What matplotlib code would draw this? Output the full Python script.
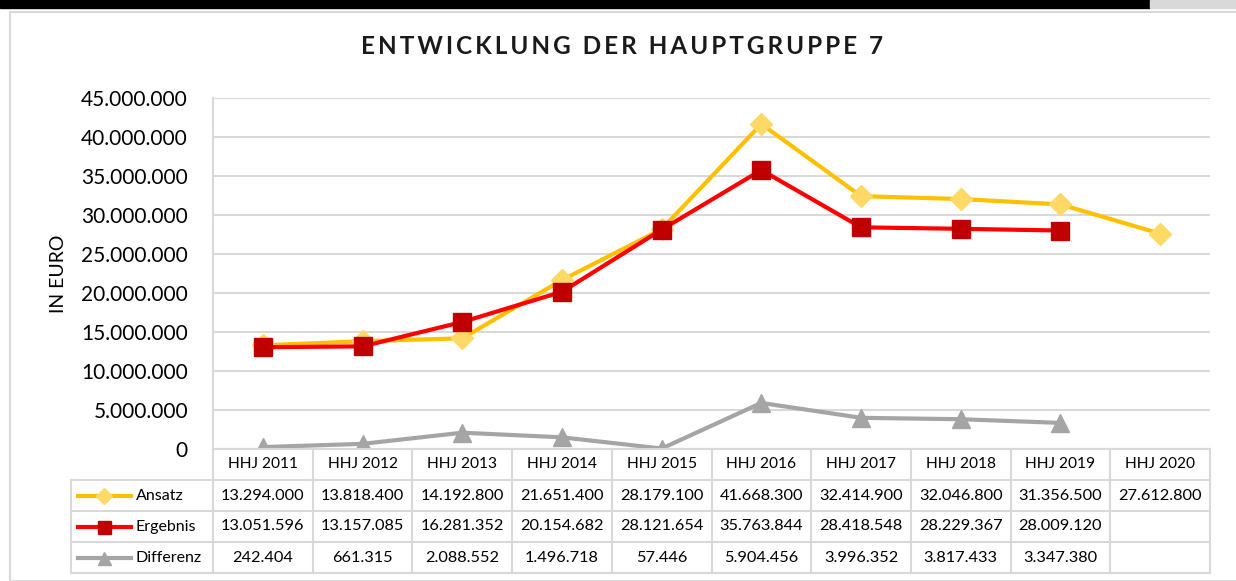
import matplotlib
matplotlib.use("Agg")
import matplotlib.pyplot as plt
from matplotlib.patches import Rectangle
from matplotlib.lines import Line2D
from matplotlib.ticker import FuncFormatter

plt.rcParams['font.family'] = ['Lato', 'DejaVu Sans']

years = ["HHJ 2011", "HHJ 2012", "HHJ 2013", "HHJ 2014", "HHJ 2015",
         "HHJ 2016", "HHJ 2017", "HHJ 2018", "HHJ 2019", "HHJ 2020"]
ansatz = [13294000, 13818400, 14192800, 21651400, 28179100,
          41668300, 32414900, 32046800, 31356500, 27612800]
ergebnis = [13051596, 13157085, 16281352, 20154682, 28121654,
            35763844, 28418548, 28229367, 28009120, None]
differenz = [242404, 661315, 2088552, 1496718, 57446,
             5904456, 3996352, 3817433, 3347380, None]

W, H = 1236, 581
fig = plt.figure(figsize=(W / 100, H / 100), dpi=100)


def fx(px):
    return px / W


def fy(py):
    return 1 - py / H


# screenshot decorations: black bar on top, frame of the chart
fig.patches.append(Rectangle((0, fy(8)), fx(1150), 8 / H, transform=fig.transFigure,
                             color="black", zorder=-5))
fig.patches.append(Rectangle((fx(1150), fy(8)), fx(86), 8 / H, transform=fig.transFigure,
                             color="#d9d9d9", zorder=-5))
fig.patches.append(Rectangle((fx(10), fy(581)), fx(1236), (581 - 12) / H,
                             transform=fig.transFigure, facecolor="white",
                             edgecolor="#d9d9d9", lw=1.5, zorder=-5))

series = [
    ("Ansatz", ansatz, "#FFC000", "D", "#FFD966", 11),
    ("Ergebnis", ergebnis, "#FF0000", "s", "#C00000", 13),
    ("Differenz", differenz, "#A5A5A5", "^", "#A5A5A5", 13),
]

# main plot
left, right, top, bottom = 213, 1210, 98, 449
ax = fig.add_axes([fx(left), fy(bottom), fx(right - left), (bottom - top) / H])
ax.patch.set_alpha(0)
x = list(range(len(years)))
for name, vals, col, mk, mcol, ms in series:
    xs = [i for i, v in zip(x, vals) if v is not None]
    ys = [v for v in vals if v is not None]
    ax.plot(xs, ys, color=col, lw=3, marker=mk, markersize=ms,
            markerfacecolor=mcol, markeredgecolor=mcol, zorder=3)
ax.set_xlim(-0.5, len(years) - 0.5)
ax.set_ylim(0, 45000000)
ax.set_yticks(range(0, 45000001, 5000000))
ax.yaxis.set_major_formatter(FuncFormatter(lambda v, p: f"{int(v):,}".replace(",", ".")))
ax.set_xticks([])
ax.grid(axis="y", color="#d9d9d9", lw=1.5)
ax.set_axisbelow(True)
for s in ["top", "right", "bottom"]:
    ax.spines[s].set_visible(False)
ax.spines["left"].set_color("#d9d9d9")
ax.spines["left"].set_linewidth(1.5)
ax.tick_params(axis="y", length=0, labelsize=15, pad=18)
ax.set_ylabel("IN EURO", fontsize=14, labelpad=10)

fig.text(0.503, fy(47), "\u2009".join("ENTWICKLUNG DER HAUPTGRUPPE 7"),
         ha="center", va="center", fontsize=17.5, fontweight="bold", color="#1a1a1a")

# data table
tleft, tbottom = 71, 573
colw = (right - left) / len(years)
tab = fig.add_axes([fx(tleft), fy(tbottom), fx(right - tleft), (tbottom - bottom) / H])
x0 = -0.5 - (left - tleft) / colw
tab.set_xlim(x0, len(years) - 0.5)
tab.set_ylim(4, 0)
tab.axis("off")
gc = "#d9d9d9"
# horizontal lines
tab.plot([-0.5, len(years) - 0.5], [0, 0], color=gc, lw=1.5, clip_on=False)
for r in [1, 2, 3, 4]:
    tab.plot([x0, len(years) - 0.5], [r, r], color=gc, lw=1.5, clip_on=False)
# vertical lines
for c in range(len(years) + 1):
    tab.plot([c - 0.5, c - 0.5], [0, 4], color=gc, lw=1.5, clip_on=False)
tab.plot([x0, x0], [1, 4], color=gc, lw=1.5, clip_on=False)

for i, yr in enumerate(years):
    tab.text(i, 0.5, yr, ha="center", va="center", fontsize=11.2)
for r, (name, vals, col, mk, mcol, ms) in enumerate(series, start=1):
    lx0 = x0 + 0.07
    lx1 = x0 + 0.6
    tab.add_line(Line2D([lx0, lx1], [r + 0.5, r + 0.5], color=col, lw=3))
    tab.add_line(Line2D([(lx0 + lx1) / 2], [r + 0.5], marker=mk, color=mcol,
                        markersize=ms * 0.72, markeredgecolor=mcol))
    tab.text(x0 + 0.65, r + 0.5, name, ha="left", va="center", fontsize=11.5)
    for i, v in enumerate(vals):
        if v is not None:
            tab.text(i, r + 0.5, f"{v:,}".replace(",", "."), ha="center",
                     va="center", fontsize=11.8)

fig.savefig("out.png", dpi=100)
